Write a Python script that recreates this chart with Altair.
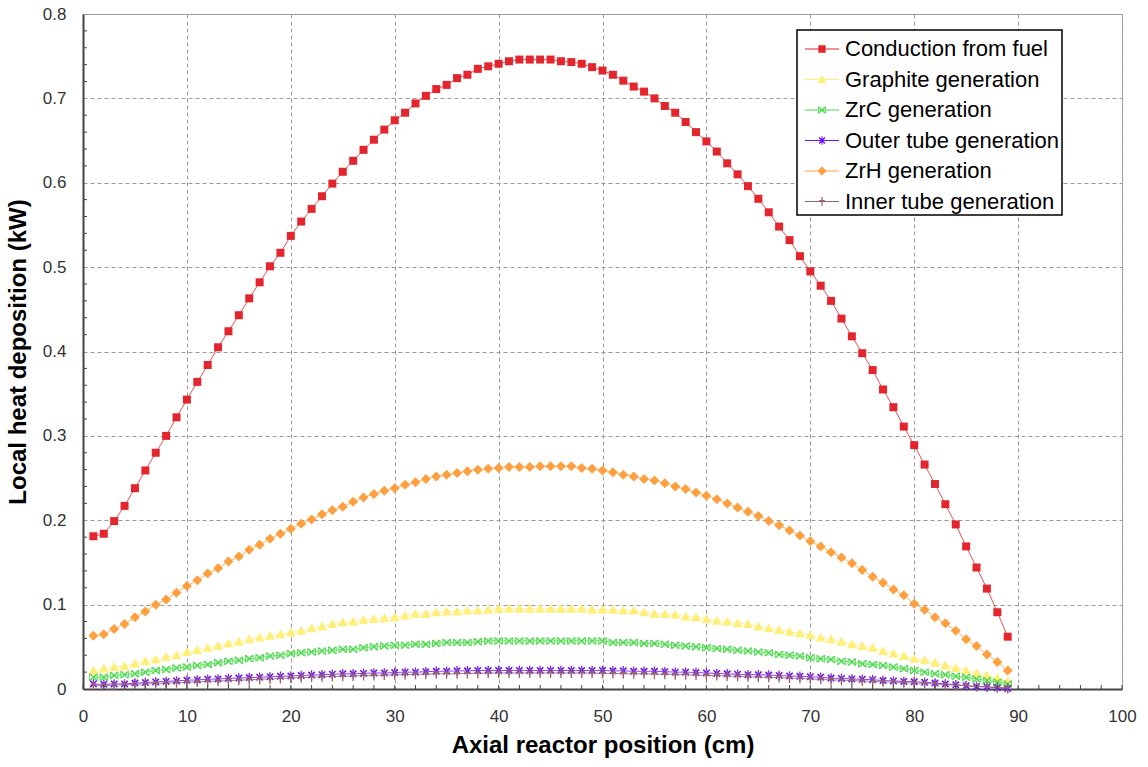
import altair as alt
import pandas as pd

# ---------------- data ----------------
positions = list(range(1, 90))

conduction = [0.181, 0.184, 0.199, 0.217, 0.238, 0.259, 0.280, 0.300, 0.322, 0.343,
              0.364, 0.384, 0.405, 0.424, 0.443, 0.463, 0.482, 0.501, 0.517, 0.537,
              0.554, 0.569, 0.584, 0.599, 0.613, 0.626, 0.639, 0.651, 0.663, 0.674,
              0.683, 0.694, 0.703, 0.711, 0.716, 0.724, 0.728, 0.735, 0.738, 0.741,
              0.744, 0.746, 0.746, 0.746, 0.746, 0.744, 0.743, 0.741, 0.737, 0.733,
              0.728, 0.721, 0.714, 0.708, 0.700, 0.691, 0.683, 0.672, 0.660, 0.649,
              0.637, 0.623, 0.610, 0.596, 0.581, 0.565, 0.548, 0.532, 0.513, 0.495,
              0.478, 0.460, 0.439, 0.418, 0.398, 0.378, 0.355, 0.334, 0.311, 0.289,
              0.266, 0.243, 0.219, 0.195, 0.169, 0.144, 0.119, 0.091, 0.062]

graphite = [0.022, 0.024, 0.026, 0.027, 0.030, 0.033, 0.035, 0.038, 0.040, 0.044,
            0.046, 0.049, 0.051, 0.054, 0.056, 0.059, 0.061, 0.063, 0.065, 0.067,
            0.069, 0.072, 0.074, 0.077, 0.079, 0.080, 0.082, 0.083, 0.084, 0.085,
            0.087, 0.089, 0.089, 0.091, 0.092, 0.092, 0.093, 0.093, 0.094, 0.095,
            0.095, 0.095, 0.095, 0.095, 0.095, 0.095, 0.095, 0.095, 0.094, 0.094,
            0.094, 0.093, 0.093, 0.091, 0.089, 0.089, 0.088, 0.086, 0.085, 0.083,
            0.081, 0.080, 0.078, 0.077, 0.074, 0.072, 0.070, 0.068, 0.066, 0.064,
            0.061, 0.059, 0.056, 0.053, 0.051, 0.049, 0.045, 0.042, 0.039, 0.036,
            0.034, 0.031, 0.028, 0.025, 0.022, 0.019, 0.016, 0.013, 0.009]

zrc = [0.014, 0.014, 0.016, 0.017, 0.018, 0.020, 0.022, 0.023, 0.025, 0.026,
       0.028, 0.029, 0.031, 0.033, 0.034, 0.036, 0.037, 0.039, 0.040, 0.042,
       0.043, 0.044, 0.045, 0.046, 0.047, 0.047, 0.049, 0.050, 0.051, 0.052,
       0.052, 0.053, 0.053, 0.054, 0.055, 0.055, 0.055, 0.056, 0.057, 0.057,
       0.057, 0.057, 0.057, 0.057, 0.057, 0.057, 0.057, 0.057, 0.057, 0.057,
       0.055, 0.055, 0.055, 0.054, 0.054, 0.053, 0.052, 0.051, 0.050, 0.049,
       0.048, 0.047, 0.046, 0.045, 0.044, 0.043, 0.041, 0.040, 0.039, 0.037,
       0.036, 0.035, 0.033, 0.032, 0.030, 0.029, 0.028, 0.026, 0.024, 0.022,
       0.020, 0.018, 0.017, 0.015, 0.014, 0.012, 0.010, 0.008, 0.006]

outer_tube = [0.006, 0.0055, 0.006, 0.006, 0.007, 0.0076, 0.0084, 0.009, 0.0096, 0.0104,
              0.0108, 0.0116, 0.012, 0.0125, 0.013, 0.0135, 0.014, 0.0145, 0.015, 0.0155,
              0.016, 0.0165, 0.017, 0.0175, 0.018, 0.018, 0.0185, 0.019, 0.019, 0.0195,
              0.020, 0.020, 0.0205, 0.021, 0.021, 0.0215, 0.0215, 0.022, 0.022, 0.022,
              0.022, 0.022, 0.022, 0.022, 0.022, 0.022, 0.022, 0.022, 0.022, 0.022,
              0.0215, 0.0215, 0.021, 0.021, 0.021, 0.0205, 0.020, 0.020, 0.0195, 0.019,
              0.0185, 0.018, 0.0175, 0.017, 0.017, 0.0165, 0.016, 0.0155, 0.015, 0.0145,
              0.014, 0.013, 0.0125, 0.012, 0.0115, 0.011, 0.010, 0.0095, 0.009, 0.0085,
              0.008, 0.007, 0.006, 0.005, 0.004, 0.003, 0.0025, 0.0015, 0.0005]

zrh = [0.063, 0.065, 0.071, 0.077, 0.085, 0.092, 0.100, 0.106, 0.114, 0.122,
       0.129, 0.137, 0.143, 0.151, 0.157, 0.165, 0.171, 0.178, 0.184, 0.190,
       0.196, 0.201, 0.207, 0.212, 0.216, 0.222, 0.227, 0.231, 0.235, 0.238,
       0.242, 0.245, 0.249, 0.252, 0.254, 0.256, 0.258, 0.260, 0.261, 0.262,
       0.263, 0.263, 0.263, 0.264, 0.264, 0.264, 0.264, 0.262, 0.261, 0.259,
       0.257, 0.254, 0.252, 0.249, 0.247, 0.244, 0.240, 0.237, 0.233, 0.229,
       0.225, 0.220, 0.215, 0.210, 0.205, 0.199, 0.194, 0.188, 0.182, 0.175,
       0.169, 0.162, 0.156, 0.149, 0.141, 0.133, 0.126, 0.118, 0.111, 0.101,
       0.094, 0.085, 0.078, 0.069, 0.059, 0.051, 0.041, 0.032, 0.022]

inner_tube = [0.004, 0.004, 0.0045, 0.005, 0.0055, 0.006, 0.0065, 0.007, 0.0075, 0.008,
              0.0085, 0.009, 0.0095, 0.010, 0.0105, 0.011, 0.0115, 0.012, 0.0125, 0.013,
              0.0135, 0.014, 0.0145, 0.015, 0.015, 0.0155, 0.016, 0.016, 0.0165, 0.017,
              0.017, 0.0175, 0.0175, 0.018, 0.018, 0.018, 0.0185, 0.0185, 0.019, 0.019,
              0.019, 0.019, 0.019, 0.019, 0.019, 0.019, 0.019, 0.019, 0.019, 0.0185,
              0.0185, 0.018, 0.018, 0.018, 0.0175, 0.0175, 0.017, 0.017, 0.0165, 0.016,
              0.016, 0.0155, 0.015, 0.0145, 0.014, 0.014, 0.0135, 0.013, 0.0125, 0.012,
              0.0115, 0.011, 0.0105, 0.010, 0.0095, 0.009, 0.0085, 0.008, 0.0075, 0.007,
              0.0065, 0.006, 0.005, 0.0045, 0.004, 0.003, 0.0025, 0.002, 0.001]

series_names = ["Conduction from fuel", "Graphite generation", "ZrC generation",
                "Outer tube generation", "ZrH generation", "Inner tube generation"]
series_values = [conduction, graphite, zrc, outer_tube, zrh, inner_tube]
series_colors = ["#E3262E", "#FFEF7A", "#4CDB4C", "#6A10FF", "#FFA040", "#9A6464"]

x_ticks = list(range(0, 101, 10))
y_ticks = [0, 0.1, 0.2, 0.3, 0.4, 0.5, 0.6, 0.7, 0.8]
x_minor = list(range(0, 101, 2))
y_minor = [0.02, 0.04, 0.06, 0.08, 0.12, 0.14, 0.16, 0.18, 0.22, 0.24, 0.26, 0.28,
           0.32, 0.34, 0.36, 0.38, 0.42, 0.44, 0.46, 0.48, 0.52, 0.54, 0.56, 0.58,
           0.62, 0.64, 0.66, 0.68, 0.72, 0.74, 0.76, 0.78]

# ---------------- marker shapes (style) ----------------
def poly(pts):
    return "M" + "L".join(f"{x:.3f},{y:.3f}" for x, y in pts) + "Z"

def rect(x0, y0, x1, y1):
    return [(x0, y0), (x1, y0), (x1, y1), (x0, y1)]

def diag(s, t):
    return [[(-s, -s + t), (-s + t, -s), (s, s - t), (s - t, s)],
            [(-s, s - t), (s - t, -s), (s, -s + t), (-s + t, s)]]

shape_polys = [
    [rect(-0.8, -0.8, 0.8, 0.8)],                                          # square
    [[(0, -1), (1, 0.8), (-1, 0.8)]],                                       # triangle
    diag(0.75, 0.2) + [rect(-0.85, -0.75, -0.67, 0.75), rect(0.67, -0.75, 0.85, 0.75)],  # x
    diag(0.75, 0.22) + [rect(-0.12, -0.95, 0.12, 0.95)],                   # asterisk
    [[(0, -1), (1, 0), (0, 1), (-1, 0)]],                                   # diamond
    [rect(-0.13, -1, 0.13, 1), rect(-0.6, -0.35, 0.6, -0.12)],             # plus
]

def shape_path(polys, k=1.0, with_line=False):
    parts = []
    if with_line:
        parts.append(poly(rect(-1, -0.035, 1, 0.035)))
    for p in polys:
        parts.append(poly([(x * k, y * k) for x, y in p]))
    return " ".join(parts)

plot_paths = [shape_path(p) for p in shape_polys]
legend_paths = [shape_path(p, k=0.27, with_line=True) for p in shape_polys]

# ---------------- tables ----------------
rows = []
for name, vals in zip(series_names, series_values):
    for xv, yv in zip(positions, vals):
        rows.append({"series": name, "x": xv, "y": yv})
df = pd.DataFrame(rows)

W, H = 1039, 675
FONT = "Liberation Sans"

color_scale = alt.Scale(domain=series_names, range=series_colors)
x_scale = alt.Scale(domain=[0, 100], nice=False, zero=False)
y_scale = alt.Scale(domain=[0, 0.8], nice=False)

x_axis = alt.Axis(values=x_ticks, title="Axial reactor position (cm)", grid=True,
                  gridDash=[4, 3], gridColor="#9a9a9a", gridWidth=1, ticks=False,
                  tickSize=0, labelPadding=19, labelFont=FONT, labelFontSize=17,
                  labelColor="#333333", domainColor="#444444", domainWidth=2,
                  titleFont=FONT, titleFontSize=24, titleFontWeight="bold",
                  titleColor="black", titlePadding=9, labelFlush=False)
y_axis = alt.Axis(values=y_ticks, format="~g", title="Local heat deposition (kW)",
                  grid=True, gridDash=[4, 3], gridColor="#9a9a9a", gridWidth=1,
                  ticks=False, tickSize=0, labelPadding=17, labelFont=FONT,
                  labelFontSize=17, labelColor="#333333", domainColor="#444444",
                  domainWidth=2, titleFont=FONT, titleFontSize=24,
                  titleFontWeight="bold", titleColor="black", titlePadding=12,
                  labelFlush=False)

layers = []
for i, (name, col, path) in enumerate(zip(series_names, series_colors, plot_paths)):
    sub = df[df["series"] == name]
    if i == 0:
        enc_x = alt.X("x:Q", scale=x_scale, axis=x_axis)
        enc_y = alt.Y("y:Q", scale=y_scale, axis=y_axis)
    else:
        enc_x = alt.X("x:Q", scale=x_scale)
        enc_y = alt.Y("y:Q", scale=y_scale)
    layers.append(alt.Chart(sub).mark_line(strokeWidth=1, color=col, opacity=0.8)
                  .encode(x=enc_x, y=enc_y))
    layers.append(alt.Chart(sub).mark_point(shape=path, size=100, filled=True, fill=col,
                                            opacity=1, strokeWidth=0)
                  .encode(x="x:Q", y="y:Q"))

legend_def = alt.Legend(title=None, orient="none", legendX=714, legendY=16,
                        symbolSize=1156, symbolStrokeWidth=0, symbolOpacity=1,
                        symbolOffset=6,
                        labelFont=FONT, labelFontSize=22, labelColor="black",
                        labelOffset=6, labelLimit=0, strokeColor="black",
                        labelExpr="datum.label + '\u00a0'",
                        fillColor="white", padding=2, rowPadding=2.5)

legend_df = pd.DataFrame({"series": series_names})
legend_layer = alt.Chart(legend_df).mark_point(filled=True, opacity=0, size=1).encode(
    x=alt.value(0), y=alt.value(0),
    color=alt.Color("series:N", scale=color_scale, legend=legend_def),
    shape=alt.Shape("series:N", scale=alt.Scale(domain=series_names, range=legend_paths),
                    legend=legend_def),
)

# inward minor ticks
xt_df = pd.DataFrame({"t": x_minor})
yt_df = pd.DataFrame({"t": y_minor})
x_tick_layer = alt.Chart(xt_df).mark_rule(color="#444444", strokeWidth=1).encode(
    x=alt.X("t:Q", scale=x_scale), y=alt.value(H), y2=alt.value(H - 4))
y_tick_layer = alt.Chart(yt_df).mark_rule(color="#444444", strokeWidth=1).encode(
    y=alt.Y("t:Q", scale=y_scale), x=alt.value(0), x2=alt.value(4))

chart = alt.layer(*layers, x_tick_layer, y_tick_layer, legend_layer).properties(
    width=W, height=H,
    autosize=alt.AutoSizeParams(type="none"),
    padding={"left": 83, "top": 14, "right": 26, "bottom": 78},
    background="white",
).configure_view(stroke="#a0a0a0", strokeWidth=1).configure_legend(strokeWidth=1.5)

chart.save("out.html", embed_options={"renderer": "svg", "actions": False})
